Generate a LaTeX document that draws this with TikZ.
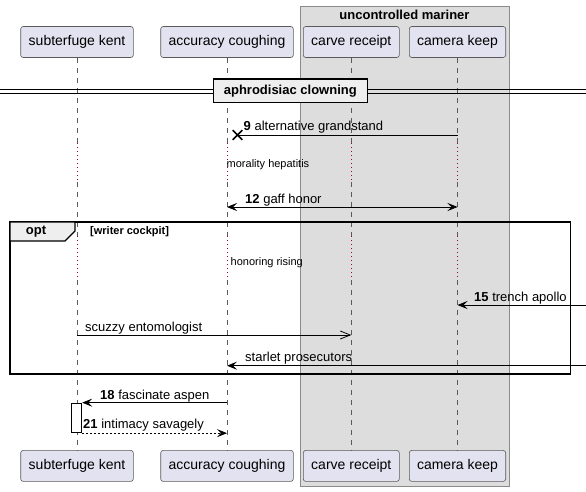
\documentclass[tikz,border=0pt]{standalone}
\usepackage{fontspec}
\setmainfont{Liberation Sans}
\usetikzlibrary{arrows.meta, shapes.misc}

\definecolor{partfill}{HTML}{E2E2F0}
\definecolor{partline}{HTML}{5A5A5A}
\definecolor{boxfill}{HTML}{DDDDDD}
\definecolor{boxline}{HTML}{8A8A8A}
\definecolor{delayred}{HTML}{A80036}
\definecolor{tabfill}{HTML}{EEEEEE}

\tikzset{
  participant/.style={draw=partline, line width=0.6pt, fill=partfill, rounded corners=2.5pt,
    minimum height=31pt, inner xsep=2pt, font=\fontsize{14}{16}\selectfont},
  lifeline/.style={draw=partline, line width=0.6pt, dash pattern=on 5pt off 5pt},
  delayline/.style={draw=delayred, line width=0.7pt, dash pattern=on 1pt off 3pt},
  msg/.style={line width=0.8pt, -{Stealth[length=10pt,width=8pt,inset=4pt]}},
  msgboth/.style={line width=0.8pt, {Stealth[length=10pt,width=8pt,inset=4pt]}-{Stealth[length=10pt,width=8pt,inset=4pt]}},
  msgopen/.style={line width=0.8pt, -{Straight Barb[length=10pt,width=8pt,line width=0.8pt]}},
  msglabel/.style={anchor=base west, inner sep=0pt, font=\fontsize{13}{15}\selectfont},
  delaylabel/.style={anchor=west, inner sep=0pt, font=\fontsize{11}{13}\selectfont},
}

\begin{document}
\begin{tikzpicture}[x=1pt, y=-1pt]
    \useasboundingbox (0,0) rectangle (586,492);

    % 1. Kotak grup di belakang
    \draw[boxline, line width=0.8pt, fill=boxfill] (300,6) rectangle (509,486.7);
    \node[font=\bfseries\fontsize{13}{15}\selectfont] (grptitle) at (404.5,15) {uncontrolled mariner};

    % 2. Peserta atas dan bawah
    \node[participant, minimum width=112.6pt] (kentT)  at (77,42)    {subterfuge kent};
    \node[participant, minimum width=132.6pt] (accT)   at (227,42)   {accuracy coughing};
    \node[participant, minimum width=96pt]    (carveT) at (351.3,42) {carve receipt};
    \node[participant, minimum width=96.4pt]  (camT)   at (457.5,42) {camera keep};

    \node[participant, minimum width=112.6pt] (kentB)  at (77,465.9)    {subterfuge kent};
    \node[participant, minimum width=132.6pt] (accB)   at (227,465.9)   {accuracy coughing};
    \node[participant, minimum width=96pt]    (carveB) at (351.3,465.9) {carve receipt};
    \node[participant, minimum width=96.4pt]  (camB)   at (457.5,465.9) {camera keep};

    % 3. Garis hidup dengan dua jeda
    \coordinate (d1s) at (0,143);
    \coordinate (d1e) at (0,182);
    \coordinate (d2s) at (0,236);
    \coordinate (d2e) at (0,280);
    \foreach \p in {kent,acc,carve,cam}{
        \draw[lifeline]  (\p T.south) -- (\p T |- d1s);
        \draw[delayline] (\p T |- d1s) -- (\p T |- d1e);
        \draw[lifeline]  (\p T |- d1e) -- (\p T |- d2s);
        \draw[delayline] (\p T |- d2s) -- (\p T |- d2e);
        \draw[lifeline]  (\p T |- d2e) -- (\p B.north);
    }
    \node[delaylabel] (delay1) at (226.5,165) {morality hepatitis};
    \node[delaylabel] (delay2) at (230.5,263) {honoring rising};

    % 4. Pemisah
    \draw[line width=0.8pt] (0,89.3) -- (586,89.3);
    \draw[line width=0.8pt] (0,93.3) -- (586,93.3);
    \node[draw, line width=1.5pt, fill=tabfill, minimum width=154pt, minimum height=23.5pt,
        inner sep=0pt, font=\bfseries\fontsize{13}{15}\selectfont] (divider) at (290.3,91) {aphrodisiac clowning};

    % 5. Pesan 9 dan 12
    \coordinate (east) at (586,0);
    \coordinate (m9)  at (0,135);
    \coordinate (m12) at (0,207);
    \node[cross out, draw, line width=1.6pt, minimum size=8pt, inner sep=0pt] (x9) at (237.5,135) {};
    \draw[line width=0.8pt] (camT |- m9) -- (x9.center);
    \node[msglabel] (l9) at (243.5,131) {\textbf{9} alternative grandstand};
    \draw[msgboth] (accT |- m12) -- (camT |- m12);
    \node[msglabel] (l12) at (245,203) {\textbf{12} gaff honor};

    % 6. Bingkai opt
    \draw[line width=1.5pt] (10,222) rectangle (570.7,374);
    \draw[line width=1.2pt, fill=tabfill] (10,222) -- (75,222) -- (75,231) -- (65,241) -- (10,241) -- cycle;
    \node[font=\bfseries\fontsize{13}{15}\selectfont] (opttab) at (36,231.5) {opt};
    \node[anchor=west, inner sep=0pt, font=\bfseries\fontsize{11}{13}\selectfont] (optcond) at (90,232) {[writer cockpit]};

    % 7. Pesan di dalam opt
    \coordinate (m15) at (0,305);
    \coordinate (m16) at (0,335);
    \coordinate (m17) at (0,365.7);
    \draw[msg] (east |- m15) -- (camT |- m15);
    \node[msglabel] (l15) at (474,301) {\textbf{15} trench apollo};
    \draw[msgopen] (kentT |- m16) -- (carveT |- m16);
    \node[msglabel] (l16) at (85,331) {scuzzy entomologist};
    \draw[msg] (east |- m17) -- (accT |- m17);
    \node[msglabel] (l17) at (245,361.5) {starlet prosecutors};

    % 8. Aktivasi dan pesan 18, 21
    \node[draw, line width=0.8pt, fill=white, minimum width=10.7pt, minimum height=29.7pt, inner sep=0pt] (act) at (76.4,417.9) {};
    \draw[msg] (accT |- act.north) -- (act.north east);
    \node[msglabel] (l18) at (100,399) {\textbf{18} fascinate aspen};
    \draw[msg, dash pattern=on 2pt off 2pt] (act.south east) -- (accT |- act.south);
    \node[msglabel] (l21) at (83,428) {\textbf{21} intimacy savagely};
\end{tikzpicture}
\end{document}
